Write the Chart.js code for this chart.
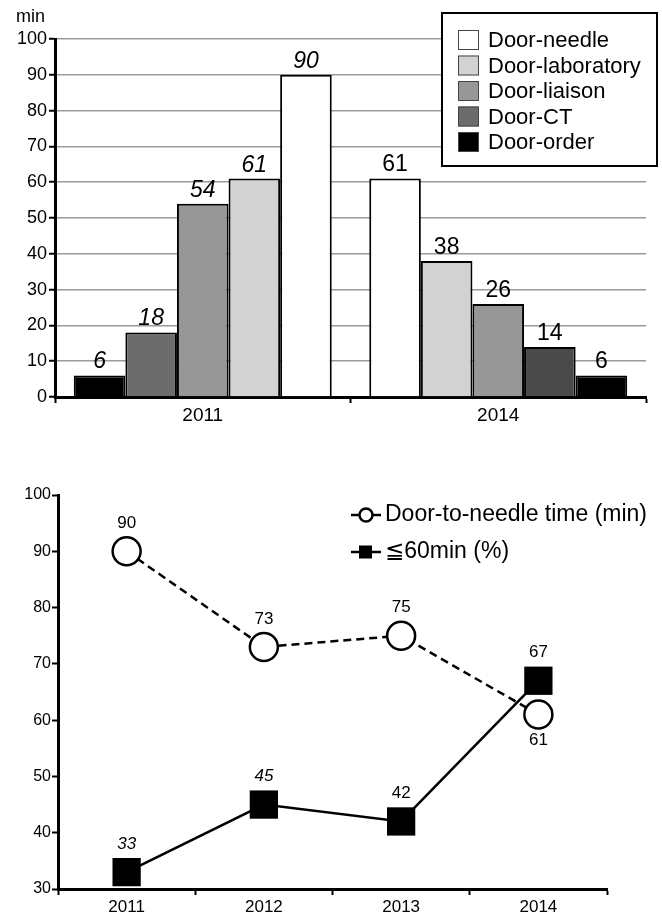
<!DOCTYPE html>
<html>
<head>
<meta charset="utf-8">
<script src="https://cdn.jsdelivr.net/npm/chart.js@4/dist/chart.umd.min.js"></script>
<style>
  html, body { margin: 0; padding: 0; background: #fff; }
  body { width: 662px; height: 914px; position: relative; overflow: hidden; }
  #c1 { position: absolute; left: 0; top: 0; }
  #c2 { position: absolute; left: 0; top: 470px; }
</style>
</head>
<body>
<canvas id="c1" width="662" height="430"></canvas>
<canvas id="c2" width="662" height="444"></canvas>
<script>
// ---------- Data: top bar chart ----------
const barYears = ['2011', '2014'];
const seriesNames = ['Door-needle', 'Door-laboratory', 'Door-liaison', 'Door-CT', 'Door-order'];
const doorNeedle = [90, 61];
const doorLaboratory = [61, 38];
const doorLiaison = [54, 26];
const doorCT = [18, 14];
const doorOrder = [6, 6];
const barTicks = [0, 10, 20, 30, 40, 50, 60, 70, 80, 90, 100];

// ---------- Data: bottom line chart ----------
const lineYears = ['2011', '2012', '2013', '2014'];
const doorToNeedleTime = [90, 73, 75, 61];
const within60Pct = [33, 45, 42, 67];
const lineSeriesNames = ['Door-to-needle time (min)', '\u226660min (%)'];
const lineTicks = [30, 40, 50, 60, 70, 80, 90, 100];

// ---------- Styles ----------
const FONT = '"Liberation Sans", Arial, "DejaVu Sans", sans-serif';
const seriesValues = [doorNeedle, doorLaboratory, doorLiaison, doorCT, doorOrder];
const seriesColors2011 = ['#ffffff', '#d2d2d2', '#979797', '#6c6c6c', '#000000'];
const seriesColors2014 = ['#ffffff', '#d2d2d2', '#979797', '#4a4a4a', '#000000'];

// 2011 group shows series in reverse order, 2014 in listed order
const positionDatasets = [];
for (let p = 0; p < 5; p++) {
  const s2011 = 4 - p, s2014 = p;
  positionDatasets.push({
    label: 'pos' + p,
    data: [seriesValues[s2011][0], seriesValues[s2014][1]],
    backgroundColor: [seriesColors2011[s2011], seriesColors2014[s2014]],
    borderColor: '#000',
    borderWidth: 2,
    categoryPercentage: 0.873,
    barPercentage: 1.0
  });
}

const barLabelPlugin = {
  id: 'barLabels',
  afterDatasetsDraw(chart) {
    const ctx = chart.ctx;
    ctx.save();
    ctx.fillStyle = '#000';
    ctx.textAlign = 'center';
    ctx.textBaseline = 'bottom';
    chart.data.datasets.forEach((ds, di) => {
      const meta = chart.getDatasetMeta(di);
      meta.data.forEach((el, i) => {
        ctx.font = (i === 0 ? 'italic ' : '') + '23px ' + FONT;
        ctx.fillText(String(ds.data[i]), el.x, el.y - 2);
      });
    });
    ctx.restore();
  },
  afterDraw(chart) {
    const ctx = chart.ctx;
    ctx.save();
    // unit label
    ctx.fillStyle = '#000';
    ctx.font = '18px ' + FONT;
    ctx.textAlign = 'left';
    ctx.textBaseline = 'middle';
    ctx.fillText('min', 16, 17);
    // legend box
    const bx = 442, by = 13, bw = 215, bh = 153;
    ctx.fillStyle = '#fff';
    ctx.fillRect(bx, by, bw, bh);
    ctx.strokeStyle = '#000';
    ctx.lineWidth = 2;
    ctx.strokeRect(bx, by, bw, bh);
    seriesNames.forEach((name, i) => {
      const cy = 40 + i * 25.5;
      ctx.fillStyle = seriesColors2011[i];
      ctx.fillRect(458, cy - 10, 21, 20);
      ctx.strokeStyle = '#444';
      ctx.lineWidth = 1;
      ctx.strokeRect(458.5, cy - 9.5, 20, 19);
      ctx.fillStyle = '#000';
      ctx.font = '22px ' + FONT;
      ctx.textBaseline = 'middle';
      ctx.fillText(name, 488, cy + 1);
    });
    ctx.restore();
  }
};

new Chart(document.getElementById('c1'), {
  type: 'bar',
  data: { labels: barYears, datasets: positionDatasets },
  options: {
    responsive: false,
    animation: false,
    devicePixelRatio: 1,
    layout: { padding: { top: 39, right: 16, bottom: 0, left: 0 } },
    plugins: { legend: { display: false }, tooltip: { enabled: false } },
    scales: {
      x: {
        offset: true,
        grid: { display: true, drawOnChartArea: false, offset: true, tickLength: 6, tickColor: '#000', tickWidth: 2 },
        border: { display: true, color: '#000', width: 3 },
        ticks: { color: '#000', font: { family: FONT, size: 19 }, padding: 1 },
        afterFit(scale) { scale.height = 33; }
      },
      y: {
        min: 0, max: 100,
        afterBuildTicks(scale) { scale.ticks = barTicks.map(v => ({ value: v })); },
        grid: { color: '#9a9a9a', lineWidth: 1.5, tickLength: 6, tickColor: '#000', tickWidth: 2 },
        border: { display: true, color: '#000', width: 3 },
        ticks: { color: '#000', font: { family: FONT, size: 18 }, padding: 2 },
        afterFit(scale) { scale.width = 55; }
      }
    }
  },
  plugins: [barLabelPlugin]
});

// ---------- Bottom line chart ----------
const lineLabelCfg = {
  0: { above: [true, true, true, false], italic: [false, false, false, false] },
  1: { above: [true, true, true, true], italic: [true, true, false, false] }
};

const lineLabelPlugin = {
  id: 'lineLabels',
  afterDatasetsDraw(chart) {
    const ctx = chart.ctx;
    ctx.save();
    ctx.fillStyle = '#000';
    ctx.textAlign = 'center';
    ctx.textBaseline = 'middle';
    chart.data.datasets.forEach((ds, di) => {
      const meta = chart.getDatasetMeta(di);
      const cfg = lineLabelCfg[di];
      meta.data.forEach((el, i) => {
        ctx.font = (cfg.italic[i] ? 'italic ' : '') + '17px ' + FONT;
        const dy = cfg.above[i] ? -28 : 26;
        ctx.fillText(String(ds.data[i]), el.x, el.y + dy);
      });
    });
    ctx.restore();
  },
  afterDraw(chart) {
    const ctx = chart.ctx;
    ctx.save();
    const rows = [45, 82];
    // row 1: dashed line w/ open circle
    ctx.strokeStyle = '#000';
    ctx.lineWidth = 2.5;
    ctx.beginPath(); ctx.moveTo(351, rows[0]); ctx.lineTo(381, rows[0]); ctx.stroke();
    ctx.fillStyle = '#fff';
    ctx.beginPath(); ctx.arc(366, rows[0], 6.5, 0, Math.PI * 2); ctx.fill(); ctx.stroke();
    // row 2: solid line w/ square
    ctx.beginPath(); ctx.moveTo(351, rows[1]); ctx.lineTo(381, rows[1]); ctx.stroke();
    ctx.fillStyle = '#000';
    ctx.fillRect(359, rows[1] - 6.5, 13, 13);
    ctx.font = '23px ' + FONT;
    ctx.textAlign = 'left';
    ctx.textBaseline = 'middle';
    ctx.fillText(lineSeriesNames[0], 385, rows[0]);
    ctx.fillText(lineSeriesNames[1], 385, rows[1]);
    ctx.restore();
  }
};

new Chart(document.getElementById('c2'), {
  type: 'line',
  data: {
    labels: lineYears,
    datasets: [
      {
        label: lineSeriesNames[0],
        data: doorToNeedleTime,
        borderColor: '#000',
        borderWidth: 2.5,
        borderDash: [8, 5],
        pointStyle: 'circle',
        pointRadius: 14,
        pointBorderWidth: 2.5,
        pointBackgroundColor: '#fff',
        pointBorderColor: '#000',
        tension: 0,
        fill: false
      },
      {
        label: lineSeriesNames[1],
        data: within60Pct,
        borderColor: '#000',
        borderWidth: 2.5,
        pointStyle: 'rect',
        pointRadius: 20,
        pointBorderWidth: 0,
        pointBackgroundColor: '#000',
        pointBorderColor: '#000',
        tension: 0,
        fill: false
      }
    ]
  },
  options: {
    responsive: false,
    animation: false,
    devicePixelRatio: 1,
    layout: { padding: { top: 25, right: 55, bottom: 0, left: 0 } },
    plugins: { legend: { display: false }, tooltip: { enabled: false } },
    scales: {
      x: {
        offset: true,
        grid: { display: true, drawOnChartArea: false, offset: true, tickLength: 6, tickColor: '#000', tickWidth: 2 },
        border: { display: true, color: '#000', width: 3 },
        ticks: { color: '#000', font: { family: FONT, size: 17 }, padding: 2 },
        afterFit(scale) { scale.height = 25; }
      },
      y: {
        min: 30, max: 100,
        afterBuildTicks(scale) { scale.ticks = lineTicks.map(v => ({ value: v })); },
        grid: { display: true, drawOnChartArea: false, tickLength: 6, tickColor: '#000', tickWidth: 2 },
        border: { display: true, color: '#000', width: 3 },
        ticks: { color: '#000', font: { family: FONT, size: 16 }, padding: 1 },
        afterFit(scale) { scale.width = 58; }
      }
    }
  },
  plugins: [lineLabelPlugin]
});
</script>
</body>
</html>
